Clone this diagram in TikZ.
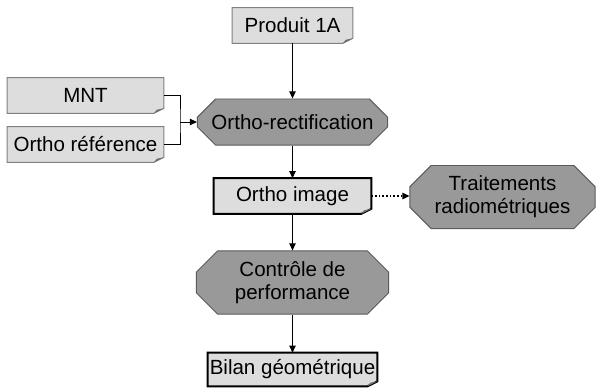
\documentclass[tikz,border=0pt]{standalone}
\usepackage{fontspec}
\setmainfont{Liberation Sans}
\usetikzlibrary{arrows.meta,shapes.misc,backgrounds}

\definecolor{docfill}{HTML}{DDDDDD}
\definecolor{docline}{HTML}{808080}
\definecolor{curl}{HTML}{6E6E6E}
\definecolor{opfill}{HTML}{999999}
\definecolor{opline}{HTML}{5A5A5A}

\begin{document}
\begin{tikzpicture}[x=0.025cm,y=-0.025cm,
  font=\fontsize{14.6}{16.2}\selectfont,
  doc/.style={rectangle, inner sep=0pt, align=center},
  op/.style={chamfered rectangle, chamfered rectangle xsep=7.5pt, chamfered rectangle ysep=7.5pt,
    draw=opline, fill=opfill, line width=0.7pt, inner sep=0pt, align=center},
  arr/.style={-{Triangle[length=5pt,width=4.5pt]}, line width=0.7pt},
  sheet/.style={fill=docfill, draw=docline, line width=0.7pt},
  sheetbold/.style={fill=docfill, draw=black, line width=1.4pt}]
\useasboundingbox (0,0) rectangle (598,389);

% documents
\node[doc, minimum width=3cm, minimum height=0.875cm] (prod) at (292.5,25.5) {Produit 1A};
\node[doc, minimum width=3.9cm, minimum height=0.875cm] (mnt) at (85.5,95.5) {MNT};
\node[doc, minimum width=3.9cm, minimum height=0.875cm] (oref) at (85.5,144.5) {Ortho référence};
\node[doc, minimum width=3.925cm, minimum height=0.875cm] (oimg) at (292.5,196) {Ortho image};
\node[doc, minimum width=4.225cm, minimum height=0.825cm] (bilan) at (292.5,369.5) {Bilan géométrique};

% operations
\node[op, minimum width=4.75cm, minimum height=1.15cm] (orect) at (292.5,122) {Ortho-rectification};
\node[op, minimum width=4.625cm, minimum height=1.45cm] (trait) at (502.5,197) {Traitements\\radiométriques};
\node[op, minimum width=4.8cm, minimum height=1.425cm] (ctrl) at (292.5,282.5) {Contrôle de\\performance};

% sheets with a curled corner, behind the text
\begin{scope}[on background layer]
\foreach \n in {prod,mnt,oref}
  \draw[sheet] (\n.north west) -- (\n.north east) -- ([yshift=3.5pt]\n.south east)
    -- ([xshift=-7pt]\n.south east) -- (\n.south west) -- cycle;
\foreach \n in {oimg,bilan}
  \draw[sheetbold] (\n.north west) -- (\n.north east) -- ([yshift=3.5pt]\n.south east)
    -- ([xshift=-7pt]\n.south east) -- (\n.south west) -- cycle;
\foreach \n in {prod,mnt,oref,oimg,bilan}
  \fill[curl] ([xshift=-7pt]\n.south east) -- ([xshift=-5pt,yshift=2.5pt]\n.south east)
    -- ([yshift=3.5pt]\n.south east) -- cycle;
\end{scope}

% connectors
\coordinate (jn) at (180,122);
\draw[line width=0.7pt] (mnt.east) -| (jn) |- (oref.east);
\draw[arr] (jn) -- (orect.west);
\draw[arr] (prod.south) -- (orect.north);
\draw[arr] (orect.south) -- (oimg.north);
\draw[arr] (oimg.south) -- (ctrl.north);
\draw[arr] (ctrl.south) -- (bilan.north);
\draw[arr, line width=1pt, dash pattern=on 1.2pt off 1.4pt] (oimg.east) -- (oimg.east -| trait.west);

\end{tikzpicture}
\end{document}
